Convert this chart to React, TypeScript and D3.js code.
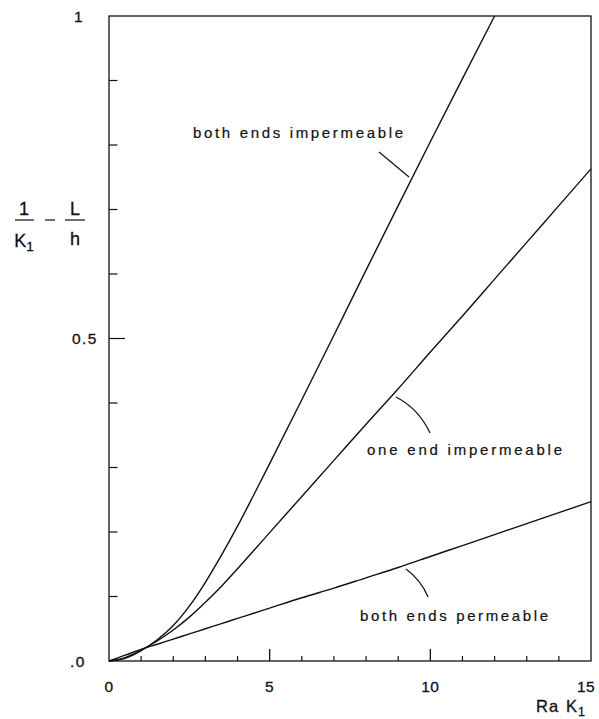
import React from "react";
import * as d3 from "d3";

// Ra K1 sample points shared by the three curves
const raK = [0, 0.5, 1, 1.5, 2, 2.5, 3, 3.5, 4, 4.5, 5, 6, 7, 8, 9, 10, 11, 12, 13, 14, 15];

// 1/K1 - L/h for each boundary condition
const bothImpermeable = [0, 0.004, 0.016, 0.033, 0.055, 0.085, 0.122, 0.164, 0.209, 0.257, 0.306, 0.405, 0.505, 0.606, 0.706, 0.805, 0.903, 1.0];
const oneImpermeable = [0, 0.005, 0.017, 0.031, 0.048, 0.068, 0.091, 0.116, 0.143, 0.171, 0.199, 0.255, 0.311, 0.367, 0.422, 0.479, 0.535, 0.592, 0.649, 0.706, 0.763];
const bothPermeable = [0, 0.009, 0.018, 0.026, 0.034, 0.042, 0.05, 0.058, 0.066, 0.074, 0.082, 0.098, 0.113, 0.129, 0.145, 0.162, 0.179, 0.196, 0.213, 0.23, 0.247];

const xTickLabels = [0, 5, 10, 15];
const xMinorTicks = [1, 2, 3, 4, 6, 7, 8, 9, 11, 12, 13, 14];
const xMajorTicks = [5, 10];
const yTicks = [0.1, 0.2, 0.3, 0.4, 0.5, 0.6, 0.7, 0.8, 0.9];
const yTickLabels = [
  { v: 1, text: "1" },
  { v: 0.5, text: "0.5" },
  { v: 0, text: ".0" },
];

const FONT = "'Liberation Sans', Arial, Helvetica, sans-serif";
const INK = "#111";

export default function App() {
  const W = 599;
  const H = 719;
  const x = d3.scaleLinear().domain([0, 15]).range([109, 591]);
  const y = d3.scaleLinear().domain([0, 1]).range([661, 16]);

  const line = d3
    .line<[number, number]>()
    .x((d) => x(d[0]))
    .y((d) => y(d[1]))
    .curve(d3.curveMonotoneX);

  const series = [bothImpermeable, oneImpermeable, bothPermeable].map((vals) =>
    line(vals.map((v, i) => [raK[i], v] as [number, number]))
  );

  const [x0, x1] = x.range();
  const [y0, y1] = y.range();

  const textInk = { fill: INK, stroke: INK, strokeWidth: 0.3 };

  return (
    <svg
      width={W}
      height={H}
      style={{ position: "absolute", left: 0, top: 0, background: "#fff" }}
      fontFamily={FONT}
    >
      <rect x={0} y={0} width={W} height={H} fill="#fff" />
      {/* frame */}
      <rect
        x={x0}
        y={y1}
        width={x1 - x0}
        height={y0 - y1}
        fill="none"
        stroke={INK}
        strokeWidth={1.3}
      />
      {/* x ticks, pointing into the plot */}
      {xMinorTicks.map((t) => (
        <line key={"xm" + t} x1={x(t)} x2={x(t)} y1={y0} y2={y0 - 5} stroke={INK} strokeWidth={1.2} />
      ))}
      {xMajorTicks.map((t) => (
        <line key={"xM" + t} x1={x(t)} x2={x(t)} y1={y0} y2={y0 - 12} stroke={INK} strokeWidth={1.3} />
      ))}
      {/* y ticks */}
      {yTicks.map((t) => (
        <line
          key={"y" + t}
          x1={x0}
          x2={x0 + (t === 0.5 ? 16 : 8.5)}
          y1={y(t)}
          y2={y(t)}
          stroke={INK}
          strokeWidth={1.2}
        />
      ))}
      {/* x tick labels */}
      {xTickLabels.map((t) => (
        <text
          key={"xl" + t}
          x={x(t) - (t === 15 ? 5 : 0)}
          y={692}
          textAnchor="middle"
          fontSize={15.5}
          letterSpacing={0.5}
          {...textInk}
        >
          {t}
        </text>
      ))}
      {/* y tick labels */}
      {yTickLabels.map((d) => (
        <text
          key={"yl" + d.text}
          x={d.v === 0.5 ? 98 : d.v === 1 ? 84 : 86}
          y={y(d.v) + 5.5}
          textAnchor="end"
          fontSize={15.5}
          letterSpacing={1.5}
          {...textInk}
        >
          {d.text}
        </text>
      ))}

      {/* curves */}
      {series.map((d, i) => (
        <path key={"s" + i} d={d || ""} fill="none" stroke={INK} strokeWidth={1.4} />
      ))}

      {/* curve annotations */}
      <line x1={379} y1={152} x2={409} y2={177} stroke={INK} strokeWidth={1.2} />
      <text x={193} y={138} fontSize={15} textLength={210} lengthAdjust="spacing" {...textInk} strokeWidth={0.2}>
        both ends impermeable
      </text>

      <path d="M396,397 Q419,409 430,433" fill="none" stroke={INK} strokeWidth={1.2} />
      <text x={367} y={455} fontSize={15} textLength={195} lengthAdjust="spacing" {...textInk} strokeWidth={0.2}>
        one end impermeable
      </text>

      <path d="M406,569 Q421,580 428,597" fill="none" stroke={INK} strokeWidth={1.2} />
      <text x={360} y={621} fontSize={15} textLength={188} lengthAdjust="spacing" {...textInk} strokeWidth={0.2}>
        both ends permeable
      </text>

      {/* x-axis title */}
      <text x={536} y={712} fontSize={16.5} letterSpacing={1} {...textInk}>
        Ra
        <tspan dx={7}>K</tspan>
        <tspan dy={4} fontSize={12.5}>1</tspan>
      </text>

      {/* y-axis title: 1/K1 - L/h */}
      <g fontSize={18} {...textInk}>
        <text x={24} y={215} textAnchor="middle">1</text>
        <line x1={15} x2={34} y1={220} y2={220} stroke={INK} strokeWidth={1.2} />
        <text x={24} y={247} textAnchor="middle">
          K<tspan dy={4} fontSize={13.5}>1</tspan>
        </text>
        <line x1={45} x2={55} y1={220} y2={220} stroke={INK} strokeWidth={1.2} />
        <text x={75} y={215} textAnchor="middle">L</text>
        <line x1={65} x2={85} y1={220} y2={220} stroke={INK} strokeWidth={1.2} />
        <text x={75} y={245} textAnchor="middle">h</text>
      </g>
    </svg>
  );
}
